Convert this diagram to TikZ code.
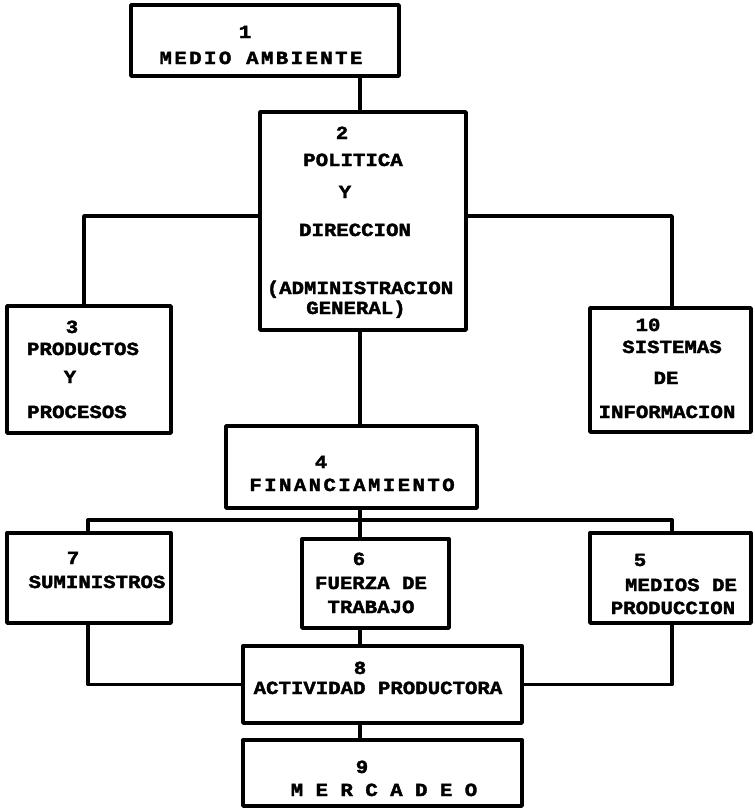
\documentclass[tikz,border=0pt]{standalone}
\usepackage{fontspec}
\newfontfamily\tw{Liberation Mono}[FakeStretch=1.12,FakeBold=2]
\newfontfamily\twwide{Liberation Mono}[FakeStretch=1.12,FakeBold=2,LetterSpace=13]
\begin{document}
\begin{tikzpicture}[x=1pt,y=-1pt,
  box/.style={draw, line width=3.4pt, inner sep=0pt, outer sep=0pt, line join=round},
  conn/.style={draw, line width=3.4pt, line join=round},
  lbl/.style={font={\tw\bfseries\fontsize{18.5pt}{20pt}\selectfont}, anchor=base, inner sep=0pt},
  lblw/.style={font={\twwide\bfseries\fontsize{18.5pt}{20pt}\selectfont}, anchor=base, inner sep=0pt}]
\fill[white] (0,0) rectangle (755,809);
\useasboundingbox (0,0) rectangle (755,809);

% boxes
\node[box, minimum width=268pt, minimum height=71pt]  (b1)  at (265,40.5) {};
\node[box, minimum width=206pt, minimum height=218pt] (b2)  at (363,221) {};
\node[box, minimum width=164pt, minimum height=127pt] (b3)  at (89,369.5) {};
\node[box, minimum width=161pt, minimum height=124pt] (b10) at (670.5,370) {};
\node[box, minimum width=251pt, minimum height=82pt]  (b4)  at (351.5,467) {};
\node[box, minimum width=164pt, minimum height=90pt]  (b7)  at (89,578) {};
\node[box, minimum width=147pt, minimum height=89pt]  (b6)  at (375.5,583.5) {};
\node[box, minimum width=161pt, minimum height=90pt]  (b5)  at (670.5,578) {};
\node[box, minimum width=279pt, minimum height=77pt]  (b8)  at (382.5,684.5) {};
\node[box, minimum width=279pt, minimum height=66pt]  (b9)  at (382.5,773) {};

% helper coordinates
\coordinate (sp)  at (360,0);
\coordinate (hA)  at (0,216);
\coordinate (hB)  at (0,520);
\coordinate (xl1) at (84,0);
\coordinate (xl2) at (88,0);
\coordinate (xr)  at (672,0);

% connectors
\draw[conn] (b1.south -| sp) -- (b2.north -| sp);
\draw[conn] (b2.west |- hA) -| (b3.north -| xl1);
\draw[conn] (b2.east |- hA) -| (b10.north -| xr);
\draw[conn] (b2.south -| sp) -- (b4.north -| sp);
\draw[conn] (b4.south -| sp) -- (b6.north -| sp);
\draw[conn] (b7.north -| xl2) -- (xl2 |- hB) -- (xr |- hB) -- (b5.north -| xr);
\draw[conn] (b7.south -| xl2) |- (b8.west);
\draw[conn] (b5.south -| xr) |- (b8.east);
\draw[conn] (b6.south -| sp) -- (b8.north -| sp);
\draw[conn] (b8.south -| sp) -- (b9.north -| sp);

% texts
\node[lbl]  (t1a) at (245,38) {1};
\node[lblw] (t1b) at (261,64) {MEDIO AMBIENTE};

\node[lbl] (t2a) at (342,139) {2};
\node[lbl] (t2b) at (353,166) {POLITICA};
\node[lbl] (t2c) at (345,198) {Y};
\node[lbl] (t2d) at (355,236) {DIRECCION};
\node[lbl] (t2e) at (360,294) {(ADMINISTRACION};
\node[lbl] (t2f) at (356,314) {GENERAL)};

\node[lbl] (t3a) at (72,333) {3};
\node[lbl] (t3b) at (83,355) {PRODUCTOS};
\node[lbl] (t3c) at (70,383) {Y};
\node[lbl] (t3d) at (77,418) {PROCESOS};

\node[lbl] (t10a) at (648,331) {10};
\node[lbl] (t10b) at (672,353) {SISTEMAS};
\node[lbl] (t10c) at (666,384) {DE};
\node[lbl] (t10d) at (667,418) {INFORMACION};

\node[lbl]  (t4a) at (321,468) {4};
\node[lblw] (t4b) at (352,491) {FINANCIAMIENTO};

\node[lbl] (t7a) at (73,564) {7};
\node[lbl] (t7b) at (97,588) {SUMINISTROS};

\node[lbl] (t6a) at (359,565) {6};
\node[lbl] (t6b) at (371,589) {FUERZA DE};
\node[lbl] (t6c) at (371,613) {TRABAJO};

\node[lbl] (t5a) at (640,566) {5};
\node[lbl] (t5b) at (681,591) {MEDIOS DE};
\node[lbl] (t5c) at (673,614) {PRODUCCION};

\node[lbl] (t8a) at (360,674) {8};
\node[lbl] (t8b) at (378,694) {ACTIVIDAD PRODUCTORA};

\node[lbl] (t9a) at (362,773) {9};
\node[lbl] (t9b) at (384,796) {M E R C A D E O};
\end{tikzpicture}
\end{document}
